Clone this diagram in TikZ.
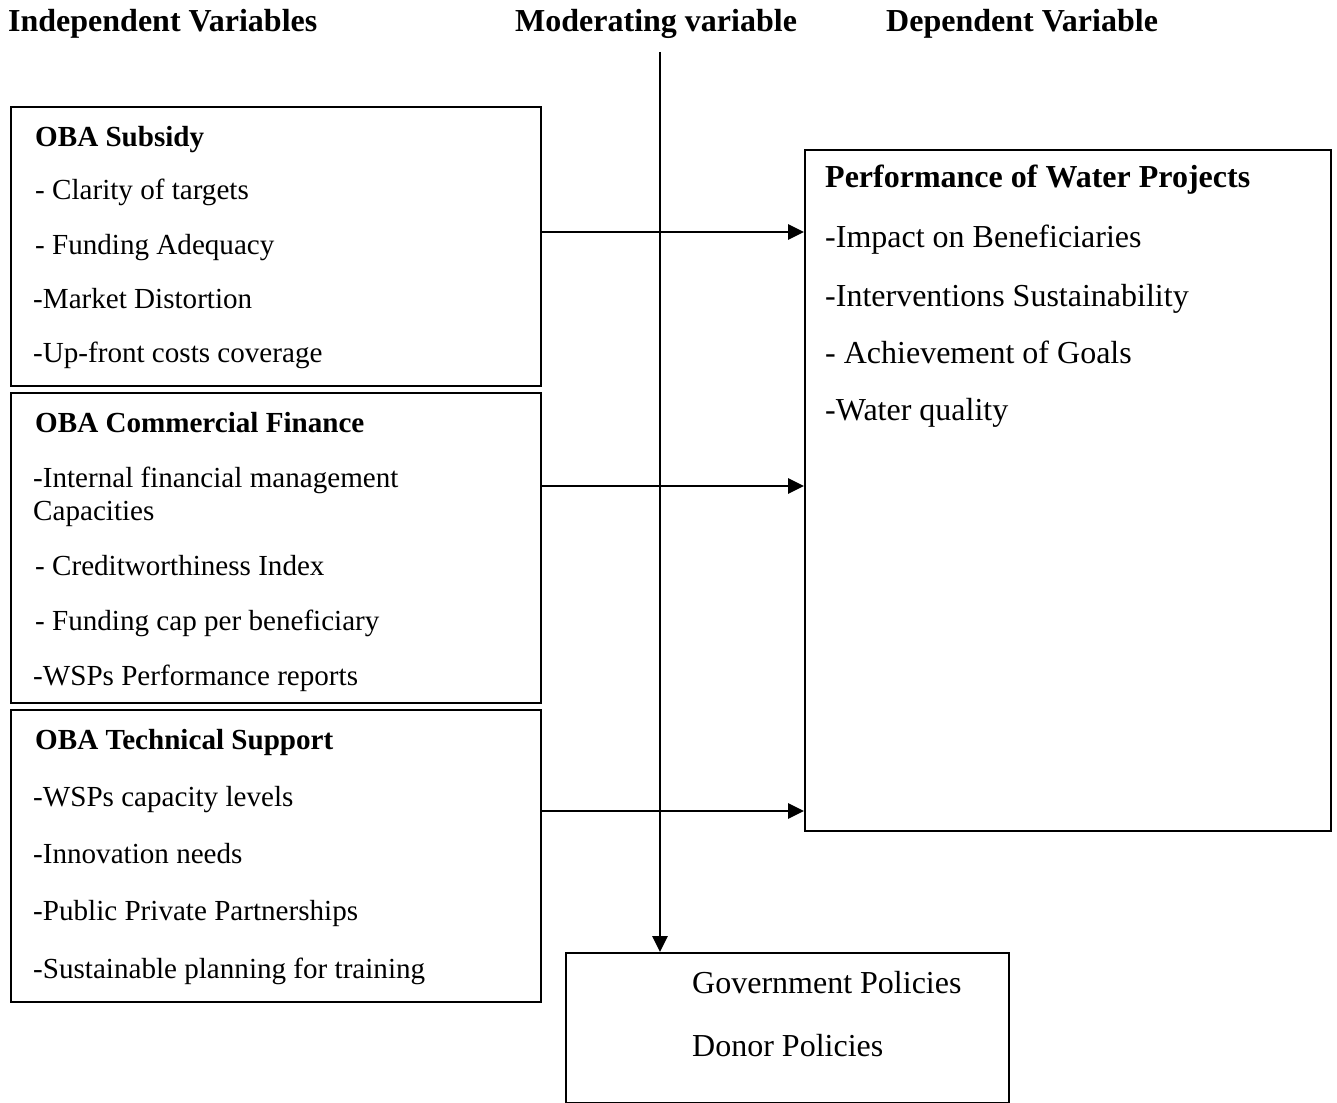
\documentclass[tikz,border=0pt]{standalone}
\usepackage{fontspec}
\setmainfont{Liberation Serif}
\usetikzlibrary{arrows.meta}

\begin{document}
\begin{tikzpicture}[x=1pt, y=-1pt,
  box/.style={rectangle, draw, line width=1.8pt, inner sep=0pt},
  item/.style={anchor=base west, inner sep=0pt, font=\fontsize{29.1}{35}\selectfont},
  bigitem/.style={anchor=base west, inner sep=0pt, font=\fontsize{32}{38}\selectfont},
  head/.style={anchor=base west, inner sep=0pt, font=\fontsize{32}{38}\selectfont\bfseries},
  flow/.style={line width=2.8pt, -{Triangle[length=16pt, width=15pt]}}]
\useasboundingbox (0,0) rectangle (1337,1102);

% headings
\node[head] (hI) at (8,32) {Independent Variables};
\node[head] (hM) at (515,32) {Moderating variable};
\node[head] (hD) at (886,32) {Dependent Variable};

% boxes
\node[box, minimum width=530pt, minimum height=279pt] (S) at (276,246.5) {};
\node[box, minimum width=530pt, minimum height=310pt] (F) at (276,548) {};
\node[box, minimum width=530pt, minimum height=292pt] (T) at (276,856) {};
\node[box, minimum width=526pt, minimum height=681pt] (P) at (1068,490.5) {};
\node[box, minimum width=443pt, minimum height=150pt] (M) at (787.5,1028) {};

% OBA Subsidy
\node[item, font=\fontsize{29.1}{35}\selectfont\bfseries] (s0) at (35,147) {OBA Subsidy};
\node[item] (s1) at (35,199) {- Clarity of targets};
\node[item] (s2) at (35,254) {- Funding Adequacy};
\node[item] (s3) at (33,308) {-Market Distortion};
\node[item] (s4) at (33,362) {-Up-front costs coverage};

% OBA Commercial Finance
\node[item, font=\fontsize{29.1}{35}\selectfont\bfseries] (f0) at (35,432) {OBA Commercial Finance};
\node[item] (f1) at (33,487) {-Internal financial management};
\node[item] (f2) at (33,520) {Capacities};
\node[item] (f3) at (35,575) {- Creditworthiness Index};
\node[item] (f4) at (35,630) {- Funding cap per beneficiary};
\node[item] (f5) at (33,685) {-WSPs Performance reports};

% OBA Technical Support
\node[item, font=\fontsize{29.1}{35}\selectfont\bfseries] (t0) at (35,749) {OBA Technical Support};
\node[item] (t1) at (33,806) {-WSPs capacity levels};
\node[item] (t2) at (33,863) {-Innovation needs};
\node[item] (t3) at (33,920) {-Public Private Partnerships};
\node[item] (t4) at (33,978) {-Sustainable planning for training};

% Performance of Water Projects
\node[head] (p0) at (825,187) {Performance of Water Projects};
\node[bigitem] (p1) at (825,247) {-Impact on Beneficiaries};
\node[bigitem] (p2) at (825,306) {-Interventions Sustainability};
\node[bigitem] (p3) at (825,363) {- Achievement of Goals};
\node[bigitem] (p4) at (825,420) {-Water quality};

% policies
\node[bigitem] (m1) at (692,993) {Government Policies};
\node[bigitem] (m2) at (692,1056) {Donor Policies};

% connectors
\coordinate (sa) at (S.east |- 0,232);
\coordinate (fa) at (F.east |- 0,486);
\coordinate (ta) at (T.east |- 0,811);
\coordinate (mtop) at (660,52);
\draw[flow] (sa) -- (sa -| P.west);
\draw[flow] (fa) -- (fa -| P.west);
\draw[flow] (ta) -- (ta -| P.west);
\draw[flow] (mtop) -- (mtop |- M.north);
\end{tikzpicture}
\end{document}
